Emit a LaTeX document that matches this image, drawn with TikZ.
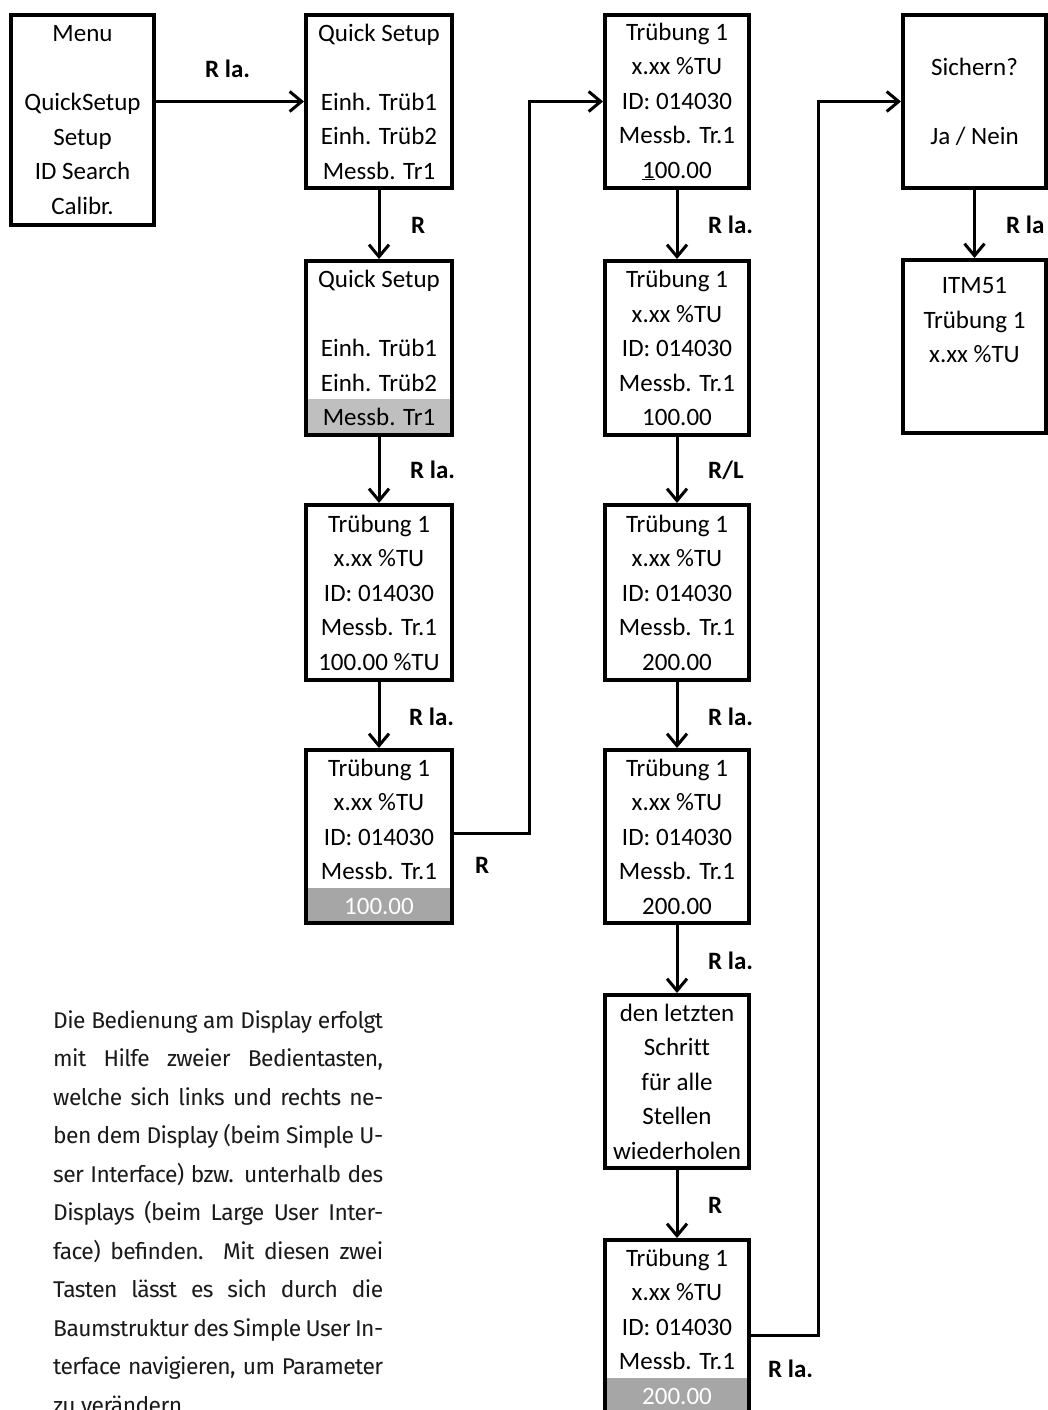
\documentclass[tikz,border=0pt]{standalone}
\usepackage{fontspec}
\usetikzlibrary{arrows.meta}
\newfontfamily\calfont{Carlito}[Ligatures=NoCommon]
\newfontfamily\parafont{Fira Sans}[LetterSpace=-2.5]
\definecolor{lightgrey}{HTML}{BFBFBF}
\definecolor{darkgrey}{HTML}{A6A6A6}
\definecolor{paratext}{HTML}{1A1A1A}
\begin{document}
\begin{tikzpicture}[x=1pt,y=-1pt,
  box/.style={draw, line width=4pt, inner sep=0pt, align=center,
    font=\calfont\fontsize{25}{34.5}\selectfont},
  col1/.style={box, minimum width=146pt, minimum height=173pt},
  col2/.style={box, minimum width=144pt, minimum height=173pt},
  col3/.style={box, minimum width=143pt, minimum height=173pt},
  arr/.style={line width=3pt, -{Straight Barb[length=12pt,width=20pt]}},
  lab/.style={font=\calfont\bfseries\fontsize{25}{30}\selectfont, anchor=base west, inner sep=0pt},
  para/.style={font=\parafont\fontsize{22.8}{38.5}\selectfont, text=paratext, align=left, inner sep=0pt}
]
\useasboundingbox (0,0) rectangle (1048,1410);
\clip (0,0) rectangle (1048,1410);

% grey highlight rows
\fill[lightgrey] (308,399) rectangle (450,433);
\fill[darkgrey] (308,888) rectangle (450,921);
\fill[darkgrey] (607,1378) rectangle (747,1413);

% column 0
\node[box, minimum width=143pt, minimum height=210pt] (menu) at (82.5,120)
  {Menu\\\mbox{}\\QuickSetup\\Setup\\ID Search\\Calibr.};

% column 1
\node[col1] (qs1) at (379,101.5) {Quick Setup\\\mbox{}\\Einh. Trüb1\\Einh. Trüb2\\Messb. Tr1};
\node[col1, minimum height=174pt] (qs2) at (379,348) {Quick Setup\\\mbox{}\\Einh. Trüb1\\Einh. Trüb2\\Messb. Tr1};
\node[col1, minimum height=175pt] (b3) at (379,592.5) {Trübung 1\\x.xx \%TU\\ID: 014030\\Messb. Tr.1\\100.00 \%TU};
\node[col1] (b4) at (379,836.5) {Trübung 1\\x.xx \%TU\\ID: 014030\\Messb. Tr.1\\\textcolor{white}{100.00}};

% column 2
\node[col2] (b5) at (677,101.5) {Trübung 1\\x.xx \%TU\\ID: 014030\\Messb. Tr.1\\\underline{1}00.00};
\node[col2, minimum height=174pt] (b6) at (677,348) {Trübung 1\\x.xx \%TU\\ID: 014030\\Messb. Tr.1\\100.00};
\node[col2, minimum height=175pt] (b7) at (677,592.5) {Trübung 1\\x.xx \%TU\\ID: 014030\\Messb. Tr.1\\200.00};
\node[col2] (b8) at (677,836.5) {Trübung 1\\x.xx \%TU\\ID: 014030\\Messb. Tr.1\\200.00};
\node[col2] (b9) at (677,1081.5) {den letzten\\Schritt\\für alle\\Stellen\\wiederholen};
\node[col2] (b10) at (677,1326.5) {Trübung 1\\x.xx \%TU\\ID: 014030\\Messb. Tr.1\\\textcolor{white}{200.00}};

% column 3
\node[col3] (b11) at (974.5,101.5) {Sichern?\\\mbox{}\\Ja / Nein};
\node[col3] (b12) at (974.5,346.5) {ITM51\\Trübung 1\\x.xx \%TU\\\mbox{}\\[-16pt]\mbox{}};

% junction coordinates
\coordinate (j1) at (529,0);
\coordinate (j2) at (818,0);

% connectors
\draw[arr] (qs1.west -| menu.east) -- (qs1.west);
\draw[arr] (qs1.south) -- (qs2.north);
\draw[arr] (qs2.south) -- (b3.north);
\draw[arr] (b3.south) -- (b4.north);
\draw[arr] ([yshift=3.5pt]b4.east) -- ([yshift=3.5pt]b4.east -| j1) -- (j1 |- b5.west) -- (b5.west);
\draw[arr] (b5.south) -- (b6.north);
\draw[arr] (b6.south) -- (b7.north);
\draw[arr] (b7.south) -- (b8.north);
\draw[arr] (b8.south) -- (b9.north);
\draw[arr] (b9.south) -- (b10.north);
\draw[arr] ([yshift=-8.5pt]b10.east) -- ([yshift=-8.5pt]b10.east -| j2) -- (j2 |- b11.west) -- (b11.west);
\draw[arr] (b11.south) -- (b12.north);

% labels
\node[lab] (l1) at (205,78) {R la.};
\node[lab] (l2) at (411,233) {R};
\node[lab] (l3) at (410,478) {R la.};
\node[lab] (l4) at (409,725) {R la.};
\node[lab] (l5) at (475,873) {R};
\node[lab] (l6) at (708,233) {R la.};
\node[lab] (l7) at (708,478) {R/L};
\node[lab] (l8) at (708,725) {R la.};
\node[lab] (l9) at (708,969) {R la.};
\node[lab] (l10) at (708,1213) {R};
\node[lab] (l11) at (768,1377) {R la.};
\node[lab] (l12) at (1006,233) {R la};

% paragraph
\node[para, anchor=base west] (info) at (53,1413) {%
\makebox[330pt][s]{Die Bedienung am Display erfolgt}\\
\makebox[330pt][s]{mit Hilfe zweier Bedientasten,}\\
\makebox[330pt][s]{welche sich links und rechts ne-}\\
\makebox[330pt][s]{ben dem Display (beim Simple U-}\\
\makebox[330pt][s]{ser Interface) bzw. unterhalb des}\\
\makebox[330pt][s]{Displays (beim Large User Inter-}\\
\makebox[330pt][s]{face) befinden. Mit diesen zwei}\\
\makebox[330pt][s]{Tasten lässt es sich durch die}\\
\makebox[330pt][s]{Baumstruktur des Simple User In-}\\
\makebox[330pt][s]{terface navigieren, um Parameter}\\
zu verändern.};
\end{tikzpicture}
\end{document}
